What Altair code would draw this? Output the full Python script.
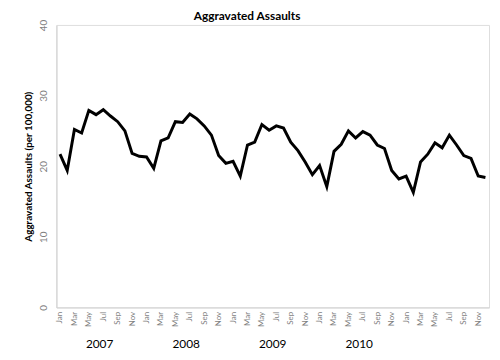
import altair as alt
import pandas as pd

years = [2007, 2008, 2009, 2010, 2011]
months = ["Jan", "Feb", "Mar", "Apr", "May", "Jun", "Jul", "Aug", "Sep", "Oct", "Nov", "Dec"]
values_2007 = [21.7, 19.4, 25.2, 24.7, 27.9, 27.3, 28.0, 27.1, 26.3, 25.0, 21.8, 21.4]
values_2008 = [21.3, 19.7, 23.6, 24.0, 26.3, 26.2, 27.4, 26.7, 25.7, 24.4, 21.5, 20.4]
values_2009 = [20.7, 18.6, 23.0, 23.4, 25.9, 25.1, 25.7, 25.4, 23.4, 22.2, 20.6, 18.8]
values_2010 = [20.1, 17.1, 22.1, 23.1, 25.0, 24.0, 24.9, 24.4, 23.0, 22.5, 19.4, 18.2]
values_2011 = [18.6, 16.3, 20.6, 21.7, 23.3, 22.6, 24.4, 23.0, 21.5, 21.1, 18.6, 18.4]
year_labels = [2007, 2008, 2009, 2010]

series = [values_2007, values_2008, values_2009, values_2010, values_2011]
keys, vals = [], []
for y, vs in zip(years, series):
    for m, v in zip(months, vs):
        keys.append(f"{y}-{m}")
        vals.append(v)
df = pd.DataFrame({"key": keys, "value": vals})
tick_keys = [k for i, k in enumerate(keys) if i % 2 == 0]

ydf = pd.DataFrame({"key": [f"{y}-Jul" for y in year_labels],
                    "label": [str(y) for y in year_labels]})

W, H = 438, 286

xenc = alt.X(
    "key:O", sort=keys,
    scale=alt.Scale(type="point", padding=0.5),
    axis=alt.Axis(
        title=None, values=tick_keys,
        labelExpr="split(datum.value, '-')[1]",
        labelAngle=270, labelFontSize=8, labelColor="#7f7f7f",
        labelFont="Lato", labelPadding=4,
        ticks=False, domainColor="#d0d0d0", grid=False,
    ),
)

line = alt.Chart(df).mark_line(color="black", strokeWidth=3, strokeJoin="miter").encode(
    x=xenc,
    y=alt.Y(
        "value:Q",
        scale=alt.Scale(domain=[0, 40]),
        axis=alt.Axis(
            title="Aggravated Assaults (per 100,000)",
            titleFont="Lato", titleFontSize=10, titleFontWeight="bold",
            titleColor="black", titleX=-28, titleY=H / 2, titleAngle=270,
            titleAlign="center", titleBaseline="middle",
            values=[0, 10, 20, 30, 40],
            labelAngle=270, labelAlign="center", labelBaseline="bottom",
            labelFontSize=10, labelColor="#7f7f7f", labelFont="Lato",
            labelPadding=8, ticks=False, domainColor="#d0d0d0", grid=False,
        ),
    ),
)

ytext = alt.Chart(ydf).mark_text(
    font="Lato", fontSize=12, color="black", dx=-3.7, baseline="alphabetic"
).encode(
    x=alt.X("key:O", sort=keys),
    y=alt.value(H + 41),
    text="label:N",
)

chart = alt.layer(line, ytext).properties(
    width=W, height=H,
    title=alt.TitleParams(
        "Aggravated Assaults", font="Lato", fontSize=12, fontWeight="bold",
        color="black", dx=-26, dy=7, offset=3,
    ),
    padding={"left": 49, "top": 15, "right": 3, "bottom": 45},
    autosize=alt.AutoSizeParams(type="none"),
).configure_view(stroke=None).configure(background="white")

chart.save("out.html", embed_options={"renderer": "svg", "actions": False})
